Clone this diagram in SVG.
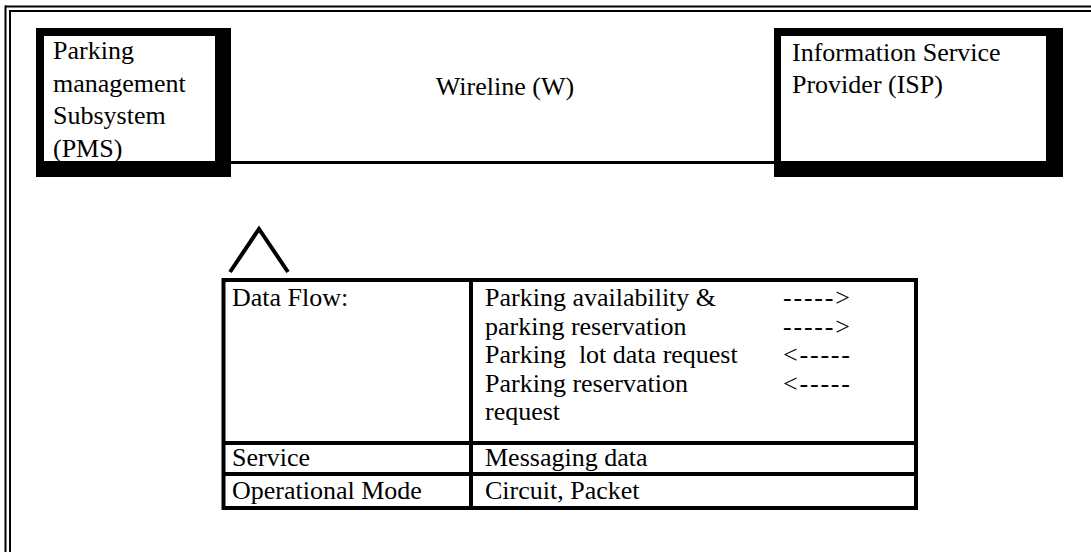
<svg xmlns="http://www.w3.org/2000/svg" width="1091" height="552" viewBox="0 0 1091 552">
<style>
text{font-family:"Liberation Serif","Times New Roman",serif;font-size:26px;fill:#000;white-space:pre}
.arr{letter-spacing:1.8px}
.frame{stroke:#000;stroke-width:2;fill:none}
.tb{stroke:#000;stroke-width:4;fill:none}
.ln{stroke:#000;stroke-width:3;fill:none}
</style>
<rect width="1091" height="552" fill="#fff"/>
<g id="frame">
<line class="frame" x1="5" y1="6.5" x2="1091" y2="6.5"/>
<line class="frame" x1="10" y1="11" x2="1091" y2="11"/>
<line class="frame" x1="5.5" y1="5.5" x2="5.5" y2="552"/>
<line class="frame" x1="10" y1="10" x2="10" y2="552"/>
</g>
<g id="connectors">
<line class="ln" x1="215" y1="162.5" x2="781" y2="162.5"/>
<text x="505" y="95" text-anchor="middle">Wireline (W)</text>
</g>
<g id="pms">
<rect x="36" y="28" width="195" height="149" fill="#000"/>
<rect x="44" y="36" width="171" height="125" fill="#fff"/>
<text x="53" y="59">Parking</text>
<text x="53" y="91.5">management</text>
<text x="53" y="124">Subsystem</text>
<text x="53" y="156.5">(PMS)</text>
</g>
<g id="isp">
<rect x="774" y="28" width="289" height="149" fill="#000"/>
<rect x="781" y="36" width="265" height="125" fill="#fff"/>
<text x="792" y="61">Information Service</text>
<text x="792" y="93">Provider (ISP)</text>
</g>
<g id="interface">
<polyline class="tb" points="230,272 259,229 288,272"/>
</g>
<g id="table">
<rect class="tb" x="223.5" y="280" width="692.5" height="228"/>
<line class="tb" x1="471" y1="280" x2="471" y2="508"/>
<line class="tb" x1="223.5" y1="443" x2="916" y2="443"/>
<line class="tb" x1="223.5" y1="474" x2="916" y2="474"/>
<text x="232" y="306">Data Flow:</text>
<text x="485" y="306">Parking availability &amp;</text>
<text x="485" y="334.5">parking reservation</text>
<text x="485" y="363">Parking  lot data request</text>
<text x="485" y="391.5">Parking reservation</text>
<text x="485" y="420">request</text>
<text class="arr" x="783" y="306">-----&gt;</text>
<text class="arr" x="783" y="334.5">-----&gt;</text>
<text class="arr" x="783" y="363">&lt;-----</text>
<text class="arr" x="783" y="391.5">&lt;-----</text>
<text x="232" y="466">Service</text>
<text x="485" y="466">Messaging data</text>
<text x="232" y="499">Operational Mode</text>
<text x="485" y="499">Circuit, Packet</text>
</g>
</svg>
